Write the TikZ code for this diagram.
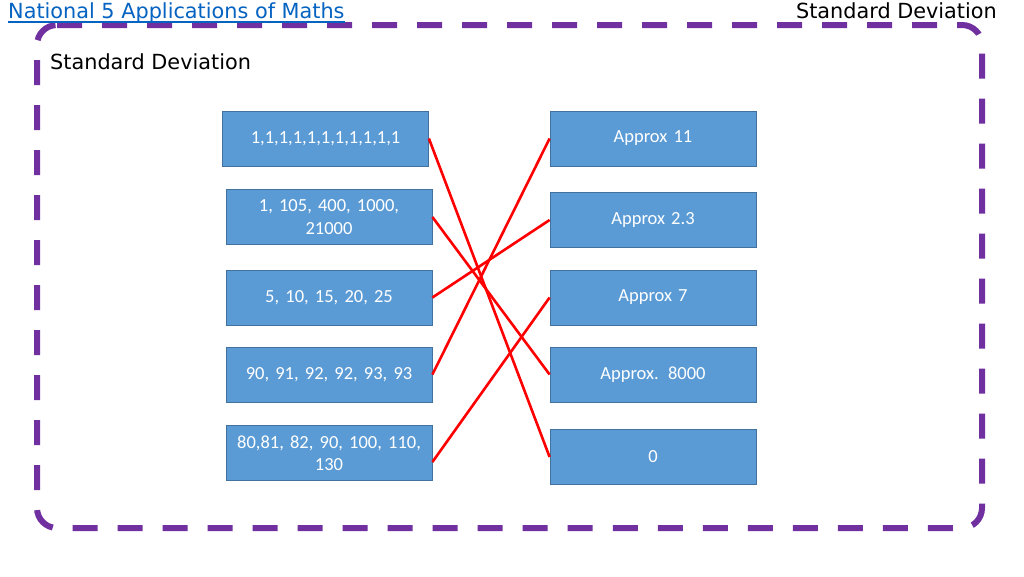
\documentclass[tikz,border=0pt]{standalone}
\usepackage{fontspec}
\setmainfont{DejaVu Sans}
\newfontfamily\boxfont{Carlito}
\definecolor{boxfill}{HTML}{5B9BD5}
\definecolor{boxline}{HTML}{41719C}
\definecolor{frame}{HTML}{7030A0}
\definecolor{linkblue}{HTML}{0563C1}
\definecolor{matchred}{HTML}{FF0000}
\tikzset{
  itembox/.style={draw=boxline, line width=0.8pt, fill=boxfill, minimum width=206pt, minimum height=55pt,
    inner sep=2pt, text=white, align=center, font=\boxfont\fontsize{18.5}{22.5}\selectfont, text width=200pt},
  matchline/.style={draw=matchred, line width=2.6pt},
  frameline/.style={draw=frame, line width=6pt, dash pattern=on 25pt off 20pt, rounded corners=20pt},
  hfont/.style={font=\fontsize{20.8}{24}\selectfont}
}
\begin{document}
\begin{tikzpicture}[x=1pt,y=-1pt]
\useasboundingbox (0,0) rectangle (1024,576);
\fill[white] (0,0) rectangle (1024,576);
\draw[frameline] (37,25) -- (982,25) -- (982,528) -- (37,528) -- cycle;
\node[anchor=base west, inner sep=0pt, text=linkblue, hfont] (title) at (8,18) {National 5 Applications of Maths};
\draw[linkblue, line width=1.2pt] ([yshift=-4pt]title.base west) -- ([yshift=-4pt]title.base east);
\node[anchor=base east, inner sep=0pt, hfont] (hdr) at (997,18) {Standard Deviation};
\node[anchor=base west, inner sep=0pt, hfont] (sub) at (50,69) {Standard Deviation};

\node[itembox] (l1) at (325.5,138.5) {1,1,1,1,1,1,1,1,1,1,1};
\node[itembox] (l2) at (329,217) {1, 105, 400, 1000,\\21000};
\node[itembox] (l3) at (329,297.5) {5, 10, 15, 20, 25};
\node[itembox] (l4) at (329,374.5) {90, 91, 92, 92, 93, 93};
\node[itembox] (l5) at (329,453) {80,81, 82, 90, 100, 110,\\130};

\node[itembox] (r1) at (653,138.5) {Approx 11};
\node[itembox] (r2) at (653,220) {Approx 2.3};
\node[itembox] (r3) at (653,297.5) {Approx 7};
\node[itembox] (r4) at (653,374.5) {Approx. 8000};
\node[itembox] (r5) at (653,457) {0};

\draw[matchline] (l1.east) -- (r5.west);
\draw[matchline] (l2.east) -- (r4.west);
\draw[matchline] (l3.east) -- (r2.west);
\draw[matchline] (l4.east) -- (r1.west);
\draw[matchline] ([yshift=-9pt]l5.east) -- (r3.west);
\end{tikzpicture}
\end{document}
